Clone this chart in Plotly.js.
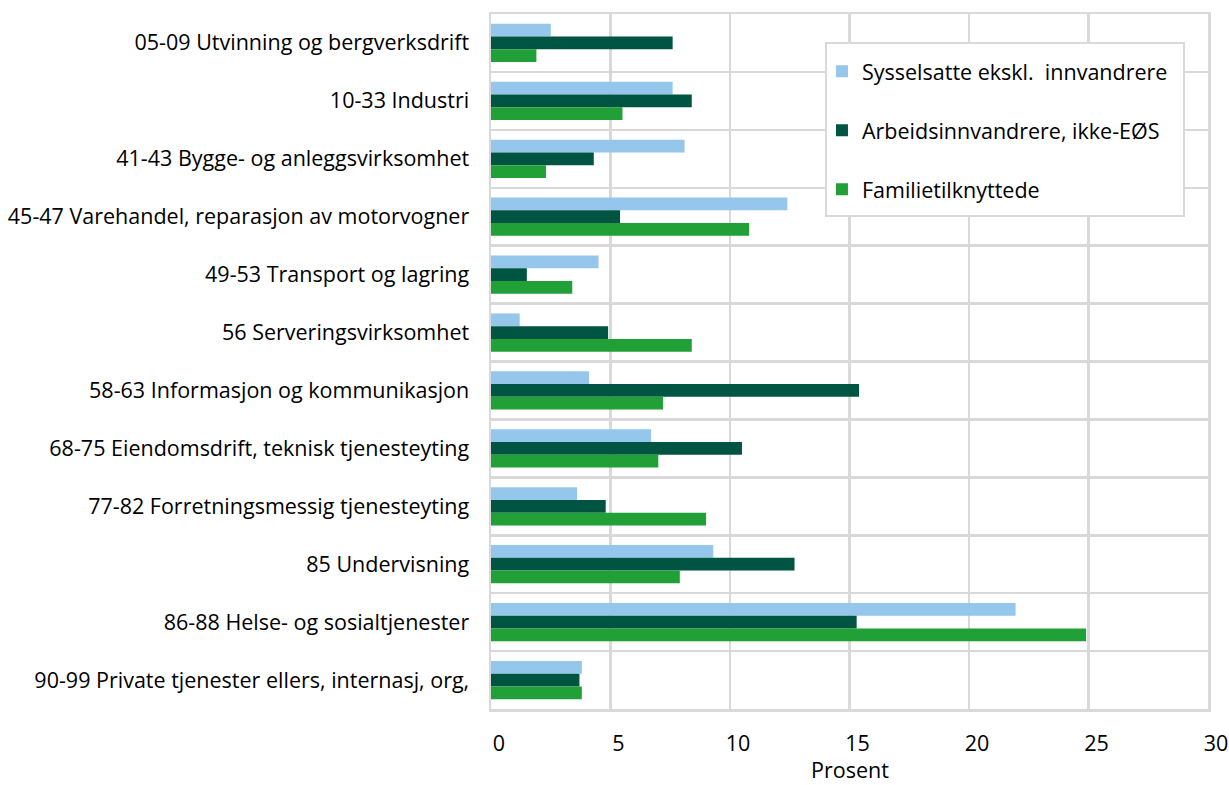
<!DOCTYPE html>
<html>
<head>
<meta charset="utf-8">
<script src="https://cdn.plot.ly/plotly-3.0.1.min.js"></script>
<style>html,body{margin:0;padding:0;background:#fff;}#chart{width:1229px;height:785px;}</style>
</head>
<body>
<div id="chart"></div>
<script>
const categories = [
  "05-09 Utvinning og bergverksdrift",
  "10-33 Industri",
  "41-43 Bygge- og anleggsvirksomhet",
  "45-47 Varehandel, reparasjon av motorvogner",
  "49-53 Transport og lagring",
  "56 Serveringsvirksomhet",
  "58-63 Informasjon og kommunikasjon",
  "68-75 Eiendomsdrift, teknisk tjenesteyting",
  "77-82 Forretningsmessig tjenesteyting",
  "85 Undervisning",
  "86-88 Helse- og sosialtjenester",
  "90-99 Private tjenester ellers, internasj, org,"
];
const seriesNames = ["Sysselsatte ekskl.  innvandrere", "Arbeidsinnvandrere, ikke-EØS", "Familietilknyttede"];
const sysselsatte = [2.5, 7.6, 8.1, 12.4, 4.5, 1.2, 4.1, 6.7, 3.6, 9.3, 21.95, 3.8];
const arbeidsinnv = [7.6, 8.4, 4.3, 5.4, 1.5, 4.9, 15.4, 10.5, 4.8, 12.7, 15.3, 3.7];
const familie = [1.9, 5.5, 2.3, 10.8, 3.4, 8.4, 7.2, 7.0, 9.0, 7.9, 24.9, 3.8];
const xTicks = [0, 5, 10, 15, 20, 25, 30];
const xTitle = "Prosent";
const colors = ["#95c6ec", "#005542", "#21a038"];

const seriesValues = [sysselsatte, arbeidsinnv, familie];
const font = "Open Sans, Noto Sans, sans-serif";
const fs = 21.5;
const traces = seriesValues.map((vals, i) => ({
  type: "bar",
  orientation: "h",
  name: seriesNames[i],
  x: vals,
  y: categories,
  legendgroup: "g" + i,
  marker: {color: colors[i], line: {width: 0}},
  hoverinfo: "x+name"
}));

const layout = {
  width: 1229, height: 785,
  margin: {l: 491, r: 21, t: 14, b: 76},
  paper_bgcolor: "#fff", plot_bgcolor: "#fff",
  font: {family: font, size: fs, color: "#000"},
  barmode: "group",
  bargap: 0.34,
  bargroupgap: 0,
  showlegend: true,
  shapes: [{
    type: "rect", xref: "paper", yref: "paper",
    x0: 0.4672, x1: 0.9665, y0: 0.7094, y1: 0.9583,
    line: {color: "#d9d9d9", width: 2}, fillcolor: "#fff", layer: "above"
  }],
  annotations: [{
    text: xTitle, xref: "paper", yref: "paper", x: 0.5, y: -0.1093,
    xanchor: "center", yanchor: "bottom", showarrow: false, borderpad: 0,
    font: {family: font, size: fs, color: "#000"}
  }],
  legend: {
    x: 0.4616, y: 0.947, xanchor: "left", yanchor: "top",
    bgcolor: "rgba(0,0,0,0)", borderwidth: 0,
    font: {family: font, size: fs, color: "#000"},
    traceorder: "grouped", tracegroupgap: 28,
    itemwidth: 30
  },
  xaxis: {
    range: [0, 30], tickvals: xTicks, ticktext: xTicks.map(String),
    showgrid: true, gridcolor: "#d9d9d9", gridwidth: 2.5,
    zeroline: false, showline: true, linecolor: "#d9d9d9", linewidth: 2.5, mirror: true,
    ticks: "", ticklabelshift: 8, ticklabelstandoff: 14,
    tickfont: {family: font, size: fs, color: "#000"}
  },
  yaxis: {
    type: "category", autorange: "reversed",
    tickson: "boundaries",
    showgrid: true, gridcolor: "#d9d9d9", gridwidth: 2.5,
    showline: true, linecolor: "#d9d9d9", linewidth: 2.5, mirror: true,
    ticks: "", ticklabelstandoff: 15,
    tickfont: {family: font, size: fs, color: "#000"}
  }
};

Plotly.newPlot("chart", traces, layout, {displayModeBar: false, staticPlot: true});
</script>
</body>
</html>
